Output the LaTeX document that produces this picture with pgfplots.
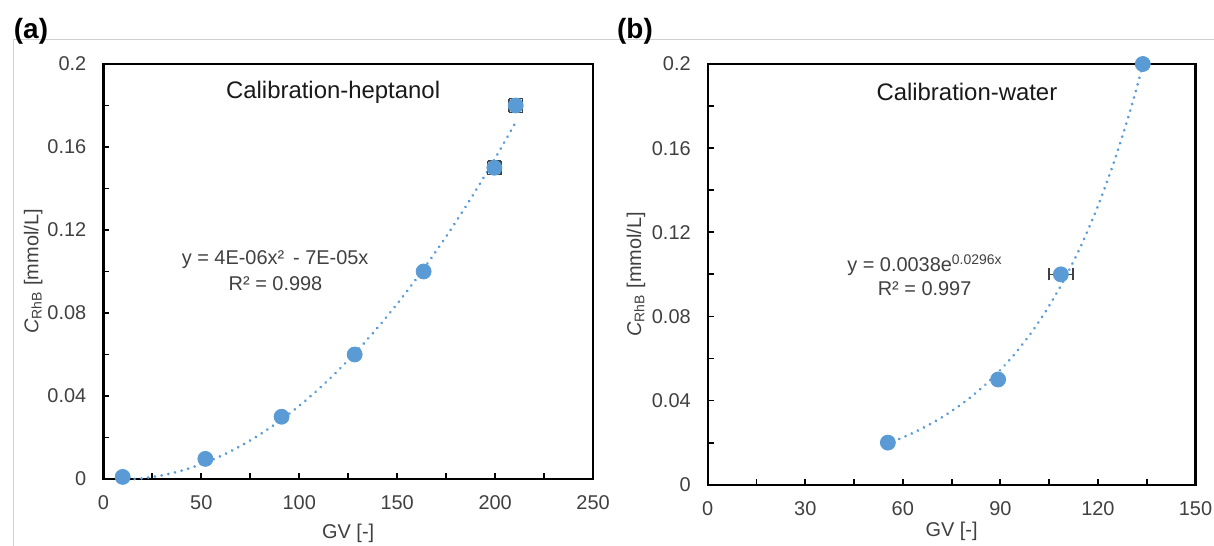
\documentclass[border=0pt]{standalone}
\usepackage{fontspec}
\setmainfont{Liberation Sans}
\usepackage{pgfplots}
\pgfplotsset{compat=1.18}
\definecolor{xblue}{HTML}{5B9BD5}
\definecolor{errgrey}{HTML}{404040}
\definecolor{framegrey}{HTML}{D0D0D0}
\definecolor{txt}{HTML}{404040}
\pgfplotsset{calib/.style={
  scale only axis,
  xmin=0, ymin=0, ymax=0.2,
  axis line style={line width=1.2bp, black},
  tick align=inside, tick pos=left,
  major tick length=3bp, minor tick length=3bp,
  tick style={black, line width=0.9bp},
  ytick={0,0.04,0.08,0.12,0.16,0.2},
  yticklabels={0,0.04,0.08,0.12,0.16,0.2},
  minor ytick={0.02,0.06,0.1,0.14,0.18},
  tick label style={font=\fontsize{10}{12}\selectfont, text=txt},
  yticklabel shift=5bp, xticklabel shift=5bp,
  label style={font=\fontsize{10}{12}\selectfont, text=txt},
  ylabel={\textit{C}\textsubscript{RhB} [mmol/L]},
  xlabel={GV [-]},
  clip=false,
}}
\begin{document}
\begin{tikzpicture}
\useasboundingbox (0,0) rectangle (607bp,273bp);
\draw[framegrey, line width=0.5bp] (6.5bp,0) -- (6.5bp,253bp) -- (607bp,253bp);
\node[font=\bfseries\fontsize{14}{16}\selectfont] at (15.5bp,257.5bp) {(a)};
\node[font=\bfseries\fontsize{14}{16}\selectfont] at (317.5bp,257.5bp) {(b)};

% ---------- (a) heptanol ----------
\begin{axis}[calib, at={(51.65bp,33.5bp)}, anchor=south west,
  width=244.9bp, height=207.5bp, xmax=250,
  xtick={0,50,100,150,200,250}, xticklabels={0,50,100,150,200,250},
  minor xtick={25,75,125,175,225},
  ylabel style={at={(axis description cs:-0.143,0.5)}, anchor=center},
  xlabel style={at={(axis description cs:0.5,-0.130)}, anchor=center}]
\addplot[xblue, line width=1.5bp, dash pattern=on 0.01bp off 3.4bp, line cap=round, smooth]
  coordinates {(16,0) (20,0.000336) (30,0.001764) (40,0.004032) (50,0.00714) (60,0.011088)
  (70,0.015876) (80,0.021504) (90,0.027972) (100,0.03528) (110,0.043428) (120,0.052416)
  (130,0.062244) (140,0.072912) (150,0.08442) (160,0.096768) (170,0.109956) (180,0.123984)
  (190,0.138852) (200,0.15456) (210.5,0.171957)};
% x error bars (vertical caps)
\addplot[only marks, mark=none, errgrey,
  error bars/.cd, x dir=both, x explicit,
  error bar style={errgrey, line width=0.8bp},
  error mark=|,
  error mark options={errgrey, line width=0.8bp, mark size=3.4bp}]
  coordinates {(199.6,0.15) +- (3.47,0) (210.5,0.18) +- (3.47,0)};
% y error bars (horizontal caps)
\addplot[only marks, mark=none, errgrey,
  error bars/.cd, y dir=both, y explicit,
  error bar style={errgrey, line width=0.8bp},
  error mark=|,
  error mark options={errgrey, line width=0.8bp, mark size=3.4bp}]
  coordinates {(199.6,0.15) +- (0,0.00328) (210.5,0.18) +- (0,0.00328)};
\addplot[only marks, mark=*, mark size=3.75bp, color=xblue, mark options={draw=xblue, fill=xblue}]
  coordinates {(9.9,0.001) (52.1,0.0097) (91,0.0300) (128.3,0.0600) (163.5,0.1000) (199.6,0.1500) (210.5,0.1800)};
\node[font=\fontsize{12}{14}\selectfont, text=black!90] at (axis cs:117.3,0.1865) {Calibration-heptanol};
\node[font=\fontsize{10}{12}\selectfont, text=txt] at (axis cs:87.7,0.1055) {y = 4E-06x² \,- 7E-05x};
\node[font=\fontsize{10}{12}\selectfont, text=txt] at (axis cs:87.9,0.0940) {R² = 0.998};
\end{axis}

% ---------- (b) water ----------
\begin{axis}[calib, at={(353.85bp,30.65bp)}, anchor=south west,
  width=243.9bp, height=210.35bp, xmax=150,
  xtick={0,30,60,90,120,150}, xticklabels={0,30,60,90,120,150},
  minor xtick={15,45,75,105,135},
  ylabel style={at={(axis description cs:-0.147,0.5)}, anchor=center},
  xlabel style={at={(axis description cs:0.5,-0.110)}, anchor=center}]
\addplot[xblue, line width=1.5bp, dash pattern=on 0.01bp off 3.4bp, line cap=round, smooth]
  coordinates {(55,0.01936) (60,0.02244) (65,0.02603) (70,0.03017) (75,0.03499) (80,0.04057)
  (85,0.04704) (90,0.05455) (95,0.06325) (100,0.07333) (105,0.08504) (110,0.09859)
  (115,0.1143) (120,0.1325) (125,0.1537) (130,0.1782) (134,0.2006)};
\addplot[only marks, mark=none, errgrey,
  error bars/.cd, x dir=both, x explicit,
  error bar style={errgrey, line width=0.8bp},
  error mark=|,
  error mark options={errgrey, line width=0.8bp, mark size=3bp}]
  coordinates {(108.6,0.1) +- (3.7,0)};
\addplot[only marks, mark=*, mark size=3.75bp, color=xblue, mark options={draw=xblue, fill=xblue}]
  coordinates {(55.4,0.02) (89.3,0.05) (108.6,0.1) (133.8,0.2)};
\node[font=\fontsize{12}{14}\selectfont, text=black!90] at (axis cs:79.7,0.1867) {Calibration-water};
\node[font=\fontsize{10}{12}\selectfont, text=txt] at (axis cs:66.8,0.1045) {y = 0.0038e\textsuperscript{0.0296x}};
\node[font=\fontsize{10}{12}\selectfont, text=txt] at (axis cs:66.7,0.0930) {R² = 0.997};
\end{axis}
\end{tikzpicture}
\end{document}
